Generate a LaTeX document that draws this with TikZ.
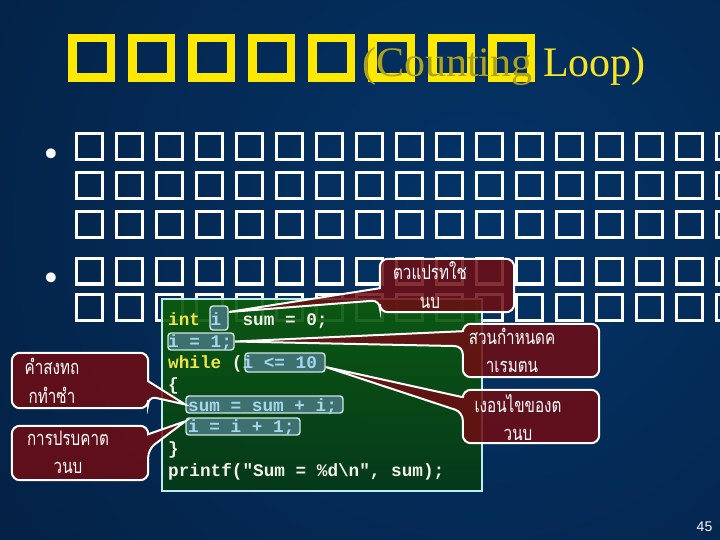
\documentclass[tikz,border=0pt]{standalone}
\usepackage{fontspec}
\newfontfamily\thaifont[Script=Thai,FakeStretch=0.76]{Loma}
\newfontfamily\codefont[WordSpace={1,0,0}]{Liberation Mono}
\newfontfamily\titlefont{Liberation Serif}
\newfontfamily\numfont{Liberation Sans}
\usetikzlibrary{positioning}

\definecolor{bgin}{RGB}{4,52,104}
\definecolor{bgout}{RGB}{4,18,40}
\definecolor{titleyellow}{RGB}{255,232,0}
\definecolor{titletext}{RGB}{245,228,40}
\definecolor{titleolive}{RGB}{172,162,28}
\definecolor{codetop}{RGB}{12,92,12}
\definecolor{codebottom}{RGB}{6,58,22}
\definecolor{codeborder}{RGB}{190,235,235}
\definecolor{codetext}{RGB}{242,242,232}
\definecolor{kw}{RGB}{240,228,70}
\definecolor{hlfill}{RGB}{62,112,112}
\definecolor{hlborder}{RGB}{205,232,225}
\definecolor{hltext}{RGB}{165,215,235}
\definecolor{calloutred}{RGB}{112,12,18}

\tikzset{
  titlebox/.style={draw=titleyellow, line width=8.5pt},
  tofu/.style={draw=white, line width=3.4pt},
  bulletmark/.style={text=white, inner sep=0pt, font=\fontsize{44}{44}\selectfont},
  codebox/.style={draw=codeborder, line width=2.5pt, top color=codetop, bottom color=codebottom,
    fill opacity=0.92, minimum width=320pt, minimum height=192pt},
  hlbox/.style={draw=hlborder, line width=1.4pt, fill=hlfill, rounded corners=3pt, inner sep=0pt},
  codeline/.style={font=\codefont\bfseries\fontsize{17.7}{20}\selectfont, text=codetext,
    inner sep=0pt, anchor=base west},
  callframe/.style={inner sep=0pt, minimum width=136pt, minimum height=53pt},
  callshape/.style={fill=calloutred, fill opacity=0.85, draw=white, line width=2pt},
  thaitext/.style={font=\thaifont\fontsize{20}{28.5}\selectfont, text=white, align=center, inner sep=0pt},
}

% callout with its pointer on the left or right edge
\newcommand{\calloutleft}[4]{%
  \path[callshape] (#4) -- ([yshift=#2]#1.south west) [rounded corners=8pt] -- (#1.north west)
    -- (#1.north east) -- (#1.south east) -- (#1.south west) -- ([yshift=#3]#1.south west)
    [sharp corners] -- cycle;}
\newcommand{\calloutright}[4]{%
  \path[callshape] (#4) -- ([yshift=#2]#1.south east) [rounded corners=8pt] -- (#1.north east)
    -- (#1.north west) -- (#1.south west) -- (#1.south east) -- ([yshift=#3]#1.south east)
    [sharp corners] -- cycle;}

\begin{document}
\begin{tikzpicture}[x=1pt, y=-1pt]
        \useasboundingbox (0,0) rectangle (720,540);
        \begin{scope}
            \clip (0,0) rectangle (720,540);
            \shade[inner color=bgin, outer color=bgout] (480,220) circle (1050pt);
        \end{scope}

        \foreach \k in {0,...,7}
            \draw[titlebox] (72.25+60*\k,38.25) rectangle ++(38.5,39.5);
        \node[anchor=base west, inner sep=0pt, text=titletext, font=\titlefont\fontsize{42}{42}\selectfont]
            (title) at (362,77) {{\color{titleolive}(Counting} Loop)};

        \node[bulletmark] (bulletA) at (51,157) {\textbullet};
        \node[bulletmark] (bulletB) at (51,281) {\textbullet};
        \foreach \r in {146.5,185.5,224.5,271,307.5}
            \foreach \k in {0,...,16}
                \draw[tofu] (76.7+40*\k,\r-12.8) rectangle ++(25.6,25.6);

        \node[codebox] (code) at (322,395) {};

        \node[hlbox, minimum width=18pt, minimum height=24pt] (hDecl) at (219,318) {};
        \node[hlbox, minimum width=66pt, minimum height=17pt] (hInit) at (201,341.5) {};
        \node[hlbox, minimum width=80pt, minimum height=19pt] (hCond) at (285,362.5) {};
        \node[hlbox, minimum width=157pt, minimum height=17pt] (hBody) at (264.5,404.5) {};
        \node[hlbox, minimum width=114pt, minimum height=17pt] (hStep) at (243,426.5) {};

        \node[codeline] (line1) at (168,325) {{\color{kw}int} {\color{hltext}i}\ \ sum = 0;};
        \node[codeline, text=hltext] (line2) at (168,347) {i = 1;};
        \node[codeline] (line3) at (168,368.5) {{\color{kw}while} ({\color{hltext}i <= 10}};
        \node[codeline] (line4) at (168,390) {\{};
        \node[codeline, text=hltext] (line5) at (188,411) {sum = sum + i;};
        \node[codeline, text=hltext] (line6) at (188,432.5) {i = i + 1;};
        \node[codeline] (line7) at (168,454.5) {\}};
        \node[codeline] (line8) at (168,476) {printf("Sum = \%d\textbackslash n", sum);};

        \node[callframe, minimum width=134pt] (cDecl) at (447,285.5) {};
        \node[callframe] (cInit) at (531,350.5) {};
        \node[callframe] (cCond) at (531,416.5) {};
        \node[callframe, minimum height=55pt] (cBody) at (80,380.5) {};
        \node[callframe, minimum height=54pt] (cStep) at (80,453) {};

        \calloutleft{cDecl}{24pt}{12pt}{[yshift=6pt]hDecl.east}
        \calloutleft{cInit}{46pt}{31pt}{hInit.east}
        \calloutleft{cCond}{46pt}{31pt}{[yshift=-4.5pt]hCond.east}
        \calloutright{cBody}{27pt}{12pt}{hBody.west}
        \calloutright{cStep}{46pt}{31pt}{[yshift=-4pt]hStep.north west}

        \node[thaitext] (tDecl) at (430,285) {ตวแปรทใช\\นบ};
        \node[thaitext] (tInit) at (512,350.5) {สวนกำหนดค\\าเรมตน};
        \node[thaitext] (tCond) at (518,417.5) {เงอนไขของต\\วนบ};
        \node[thaitext] (tBody) at (52,381) {คำสงทถ\\กทำซำ};
        \node[thaitext] (tStep) at (68,452.5) {การปรบคาต\\วนบ};

        \node[text=white, inner sep=0pt, font=\numfont\fontsize{14}{14}\selectfont] (page) at (704.5,527) {45};
    \end{tikzpicture}
\end{document}
